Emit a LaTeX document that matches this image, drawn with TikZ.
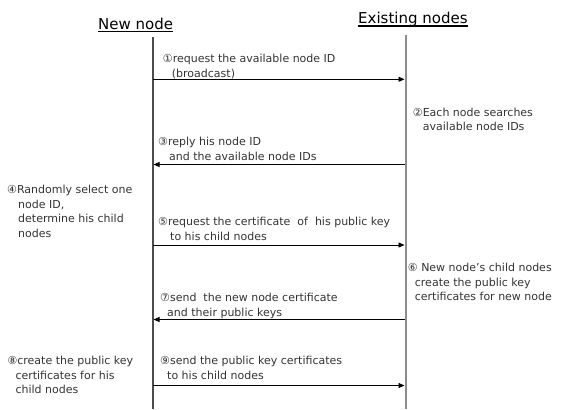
\documentclass[tikz,border=0pt]{standalone}
\usepackage{fontspec}
\setmainfont{DejaVu Sans}
\usetikzlibrary{arrows.meta}
\begin{document}
\begin{tikzpicture}[x=1pt,y=-1pt,
  txt/.style={inner sep=0pt, anchor=north west, align=left, text=black!80,
    font=\fontsize{11}{14.5}\selectfont},
  head/.style={inner sep=0pt, anchor=base west, font=\fontsize{15}{18}\selectfont},
  uline/.style={line width=1.1pt},
  msg/.style={line width=0.9pt, -{Triangle[length=6pt,width=5pt]}},
  newlife/.style={line width=1.1pt, black!70},
  oldlife/.style={line width=2pt, black!45}
]
\useasboundingbox (0,0) rectangle (561,409);

% headings
\node[head] (hn) at (98,29.5) {New node};
\node[head] (he) at (358,24) {Existing nodes};
\draw[uline] ([yshift=-2pt]hn.base west) -- ([yshift=-2pt]hn.base east);
\draw[uline] ([yshift=-2pt]he.base west) -- ([yshift=-2pt]he.base east);

% lifelines
\coordinate (nt) at (153,37);
\coordinate (nb) at (153,409);
\coordinate (et) at (405.5,35);
\coordinate (eb) at (405.5,409);
\draw[newlife] (nt) -- (nb);
\draw[oldlife] (et) -- (eb);

% message end points
\coordinate (n1) at (153,79.3);   \coordinate (e1) at (404.5,79.3);
\coordinate (n3) at (153.5,164.5); \coordinate (e3) at (404.5,164.5);
\coordinate (n5) at (153,245);    \coordinate (e5) at (404.5,245);
\coordinate (n7) at (153.5,319.5); \coordinate (e7) at (404.5,319.5);
\coordinate (n9) at (153,385.5);  \coordinate (e9) at (404.5,385.5);

\draw[msg] (n1) -- (e1);
\draw[msg] (e3) -- (n3);
\draw[msg] (n5) -- (e5);
\draw[msg] (e7) -- (n7);
\draw[msg] (n9) -- (e9);

% message labels
\node[txt] (l1) at (162.7,54) {①request the available node ID\\\hspace*{9pt}(broadcast)};
\node[txt] (l3) at (158,137) {③reply his node ID\\\hspace*{11pt}and the available node IDs};
\node[txt] (l5) at (158,217) {⑤request the certificate\ \ of\ \ his public key\\\hspace*{12pt}to his child nodes};
\node[txt] (l7) at (160,293) {⑦send\ \ the new node certificate\\\hspace*{7pt}and their public keys};
\node[txt] (l9) at (160,356) {⑨send the public key certificates\\\hspace*{7pt}to his child nodes};

% side notes
\node[txt] (s2) at (412.7,107.5) {②Each node searches\\\hspace*{10pt}available node IDs};
\node[txt] (s4) at (7,185) {④Randomly select one\\\hspace*{11pt}node ID,\\\hspace*{11pt}determine his child\\\hspace*{11pt}nodes};
\node[txt] (s6) at (407.7,263) {⑥ New node's child nodes\\\hspace*{7pt}create the public key\\\hspace*{7pt}certificates for new node};
\node[txt] (s8) at (7.3,356) {⑧create the public key\\\hspace*{8pt}certificates for his\\\hspace*{8pt}child nodes};
\end{tikzpicture}
\end{document}
